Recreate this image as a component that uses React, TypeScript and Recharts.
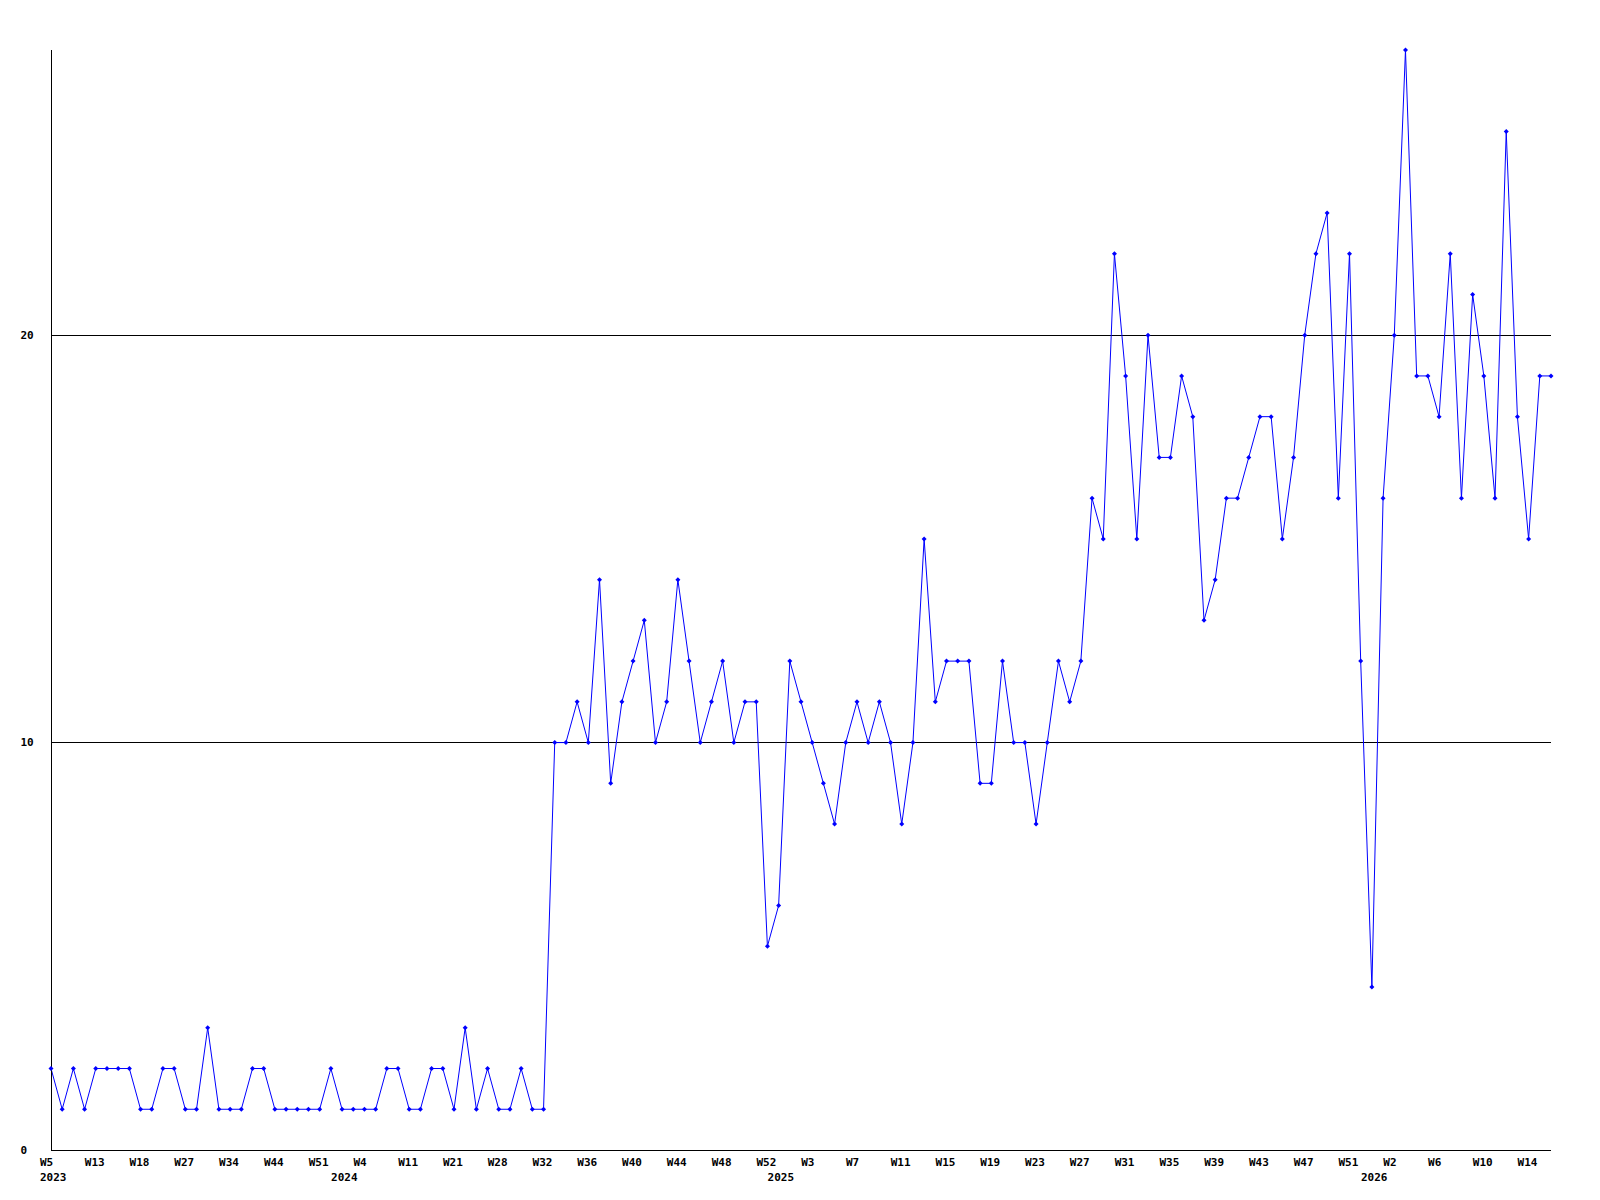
import React from 'react';
import { LineChart, Line, XAxis, YAxis, ReferenceLine } from 'recharts';

// week labels under every 4th point
const weekLabels = [
  'W5', 'W13', 'W18', 'W27', 'W34', 'W44', 'W51',
  'W4', 'W11', 'W21', 'W28', 'W32', 'W36', 'W40', 'W44', 'W48', 'W52',
  'W3', 'W7', 'W11', 'W15', 'W19', 'W23', 'W27', 'W31', 'W35', 'W39', 'W43', 'W47', 'W51',
  'W2', 'W6', 'W10', 'W14',
];

// years and the point where each one starts
const years = ['2023', '2024', '2025', '2026'];
const yearStart = [0, 26, 65, 118];

const counts = [
  2, 1, 2, 1, 2, 2, 2, 2, 1, 1, 2, 2, 1, 1, 3, 1, 1, 1, 2, 2, 1, 1, 1, 1, 1,
  2, 1, 1, 1, 1, 2, 2, 1, 1, 2, 2, 1, 3, 1, 2, 1, 1, 2, 1, 1,
  10, 10, 11, 10, 14, 9, 11, 12, 13, 10, 11, 14, 12, 10, 11, 12,
  10, 11, 11, 5, 6, 12, 11, 10, 9, 8, 10, 11, 10, 11, 10, 8, 10,
  15, 11, 12, 12, 12, 9, 9, 12, 10, 10, 8, 10, 12, 11, 12, 16, 15,
  22, 19, 15, 20, 17, 17, 19, 18, 13, 14, 16, 16, 17, 18, 18, 15, 17,
  20, 22, 23, 16, 22, 12, 4, 16, 20, 27, 19,
  19, 18, 22, 16, 21, 19, 16, 25, 18, 15, 19, 19,
];

const yTicks = [0, 10, 20];
const gridValues = [10, 20];

const data = counts.map((v, i) => ({ idx: i, count: v }));
const lastIdx = counts.length - 1;
const weekTicks = weekLabels.map((_, i) => i * 4);

const font = "'DejaVu Sans Mono', monospace";

const WeekTick = ({ x, y, payload }: any) => (
  <text x={x - 11} y={y + 12} textAnchor="start" dominantBaseline="central"
    fontFamily={font} fontSize={11} fontWeight="bold" fill="#000">
    {weekLabels[Math.round(payload.value / 4)]}
  </text>
);

const YearTick = ({ x, y, payload }: any) => (
  <text x={x - 11} y={y + 9} textAnchor="start" dominantBaseline="central"
    fontFamily={font} fontSize={11} fontWeight="bold" fill="#000">
    {years[yearStart.indexOf(payload.value)]}
  </text>
);

const ValueTick = ({ x, y, payload }: any) => (
  <text x={x - 30.5} y={y} textAnchor="start" dominantBaseline="central"
    fontFamily={font} fontSize={11} fontWeight="bold" fill="#000">
    {payload.value}
  </text>
);

const Diamond = ({ cx, cy }: any) => (
  <polygon
    points={`${cx - 2.5},${cy} ${cx},${cy - 2.5} ${cx + 2.5},${cy} ${cx},${cy + 2.5}`}
    fill="#0000ff"
  />
);

const App: React.FC = () => {
  return (
    <div style={{ position: 'absolute', left: 0, top: 0, width: 1600, height: 1200, background: '#fff' }}>
      <LineChart width={1600} height={1200} data={data}
        margin={{ top: 50, right: 49, bottom: 16, left: 0 }}>
        <XAxis
          dataKey="idx"
          type="number"
          domain={[0, lastIdx]}
          ticks={weekTicks}
          interval={0}
          height={18}
          tickLine={false}
          tickSize={0}
          tickMargin={0}
          axisLine={{ stroke: '#000', shapeRendering: 'crispEdges' }}
          tick={<WeekTick />}
        />
        <XAxis
          xAxisId="year"
          dataKey="idx"
          type="number"
          domain={[0, lastIdx]}
          ticks={yearStart}
          interval={0}
          height={16}
          tickLine={false}
          tickSize={0}
          tickMargin={0}
          axisLine={false}
          tick={<YearTick />}
        />
        <YAxis
          width={51}
          domain={[0, 27]}
          ticks={yTicks}
          interval={0}
          tickLine={false}
          tickSize={0}
          tickMargin={0}
          axisLine={{ stroke: '#000', shapeRendering: 'crispEdges' }}
          tick={<ValueTick />}
        />
        {gridValues.map((v) => (
          <ReferenceLine key={v} y={v} stroke="#000" strokeWidth={1} shapeRendering="crispEdges" />
        ))}
        <Line
          type="linear"
          dataKey="count"
          stroke="#0000ff"
          strokeWidth={1}
          dot={<Diamond />}
          activeDot={false}
          isAnimationActive={false}
        />
      </LineChart>
    </div>
  );
};

export default App;
